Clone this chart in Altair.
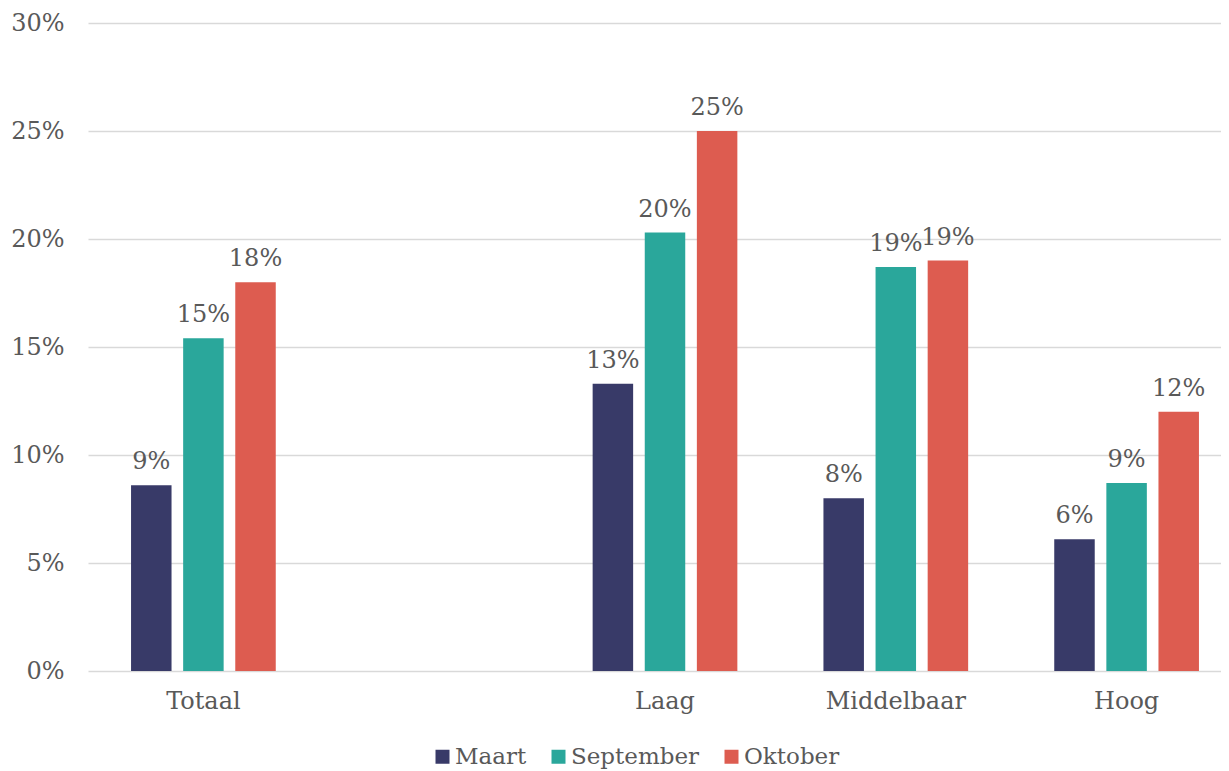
import altair as alt
import pandas as pd

categories = ["Totaal", " ", "Laag", "Middelbaar", "Hoog"]
series = ["Maart", "September", "Oktober"]
colors = ["#383a68", "#2aa79b", "#dd5c50"]

groups = ["Totaal", "Laag", "Middelbaar", "Hoog"]
maart = [0.086, 0.133, 0.080, 0.061]
september = [0.154, 0.203, 0.187, 0.087]
oktober = [0.180, 0.250, 0.190, 0.120]

rows = []
for g, a, b, c in zip(groups, maart, september, oktober):
    rows.append({"cat": g, "serie": "Maart", "val": a})
    rows.append({"cat": g, "serie": "September", "val": b})
    rows.append({"cat": g, "serie": "Oktober", "val": c})
df = pd.DataFrame(rows)

FONT = "DejaVu Serif"
TXT = "#595959"
FS = 24

x = alt.X("cat:N", scale=alt.Scale(domain=categories, paddingInner=0.373, paddingOuter=0.1865,
                                   range=[0, 1154]),
          sort=categories,
          axis=alt.Axis(title=None, labelAngle=0, ticks=False, domain=False, labelPadding=18,
                        labelFontSize=FS, labelColor=TXT, labelFont=FONT))
xo = alt.XOffset("serie:N", sort=series, scale=alt.Scale(domain=series, paddingInner=0.223, paddingOuter=0))
y = alt.Y("val:Q", scale=alt.Scale(domain=[0, 0.30], nice=False),
          axis=alt.Axis(title=None, format=".0%", values=[0, 0.05, 0.10, 0.15, 0.20, 0.25, 0.30],
                        ticks=False, domain=False, labelPadding=24, labelFontSize=FS,
                        labelColor=TXT, labelFont=FONT, gridColor="#d9d9d9", gridWidth=1.5))

color = alt.Color("serie:N", sort=series, scale=alt.Scale(domain=series, range=colors),
                  legend=alt.Legend(title=None, orient="none", direction="horizontal",
                                    legendX=343, legendY=722, symbolType="square", symbolSize=196,
                                    symbolStrokeWidth=0, labelFontSize=23, labelColor=TXT,
                                    labelFont=FONT, columnPadding=20, labelOffset=1))

base = alt.Chart(df).encode(x=x, xOffset=xo, y=y)
bars = base.mark_bar().encode(color=color)
labels = base.mark_text(dy=-11, baseline="bottom", fontSize=FS, font=FONT, color=TXT).encode(
    text=alt.Text("val:Q", format=".0%"))

chart = (bars + labels).properties(
    width=1133, height=648,
    autosize=alt.AutoSizeParams(type="none"),
    padding={"left": 80, "top": 15, "right": 0, "bottom": 100},
).configure_view(stroke=None)

chart.save("out.html", embed_options={"renderer": "svg", "actions": False})
